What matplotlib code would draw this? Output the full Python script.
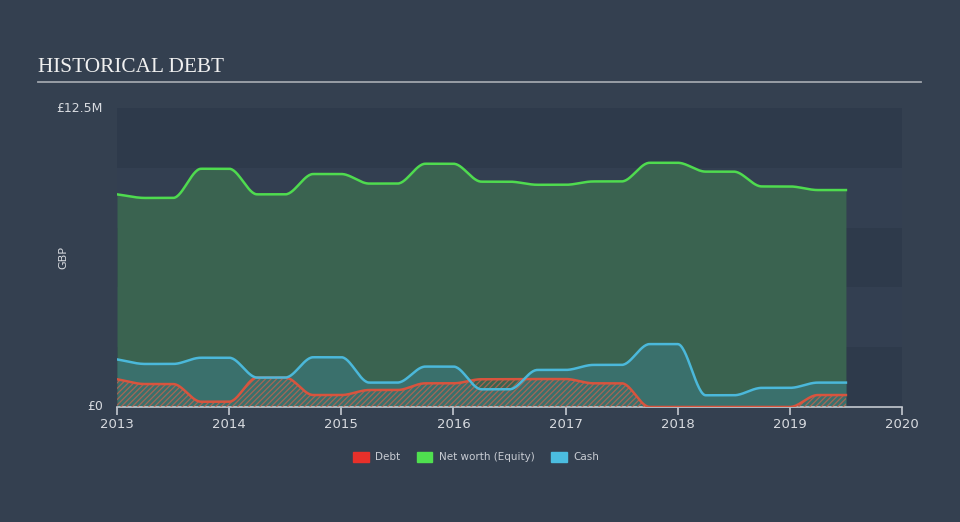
import numpy as np
import matplotlib
matplotlib.use("Agg")
import matplotlib.pyplot as plt

# ---- data (GBP millions, quarterly) ----
dates = [2013.0, 2013.25, 2013.5, 2013.75, 2014.0, 2014.25, 2014.5, 2014.75,
         2015.0, 2015.25, 2015.5, 2015.75, 2016.0, 2016.25, 2016.5, 2016.75,
         2017.0, 2017.25, 2017.5, 2017.75, 2018.0, 2018.25, 2018.5, 2018.75,
         2019.0, 2019.25, 2019.5]
equity = [8.89, 8.74, 8.74, 9.96, 9.96, 8.89, 8.89, 9.74,
          9.74, 9.34, 9.34, 10.17, 10.17, 9.42, 9.42, 9.29,
          9.29, 9.43, 9.43, 10.21, 10.21, 9.84, 9.84, 9.22,
          9.22, 9.07, 9.07]
cash = [1.99, 1.80, 1.80, 2.06, 2.06, 1.23, 1.23, 2.08,
        2.08, 1.02, 1.02, 1.69, 1.69, 0.74, 0.74, 1.55,
        1.55, 1.76, 1.76, 2.63, 2.63, 0.49, 0.49, 0.80,
        0.80, 1.02, 1.02]
debt = [1.16, 0.96, 0.96, 0.22, 0.22, 1.23, 1.23, 0.50,
        0.50, 0.71, 0.71, 0.99, 0.99, 1.16, 1.16, 1.17,
        1.17, 0.99, 0.99, 0.0, 0.0, 0.0, 0.0, 0.0,
        0.0, 0.50, 0.50]
year_ticks = [2013, 2014, 2015, 2016, 2017, 2018, 2019, 2020]
ytick_vals = [0, 12.5]
ytick_labels = ["£0", "£12.5M"]


def monotone(x, y, n=30):
    """Monotone cubic (Fritsch-Carlson) curve through points, for drawing."""
    x = np.asarray(x, float); y = np.asarray(y, float)
    h = np.diff(x); d = np.diff(y) / h
    m = np.zeros_like(y)
    for i in range(1, len(y) - 1):
        if d[i - 1] * d[i] > 0:
            w1 = 2 * h[i] + h[i - 1]; w2 = h[i] + 2 * h[i - 1]
            m[i] = (w1 + w2) / (w1 / d[i - 1] + w2 / d[i])
    m[0] = d[0]; m[-1] = d[-1]
    xs, ys = [], []
    for i in range(len(h)):
        t = np.linspace(0, 1, n, endpoint=(i == len(h) - 1))
        h00 = 2 * t**3 - 3 * t**2 + 1; h10 = t**3 - 2 * t**2 + t
        h01 = -2 * t**3 + 3 * t**2; h11 = t**3 - t**2
        xs.append(x[i] + t * h[i])
        ys.append(h00 * y[i] + h10 * h[i] * m[i] + h01 * y[i + 1] + h11 * h[i] * m[i + 1])
    return np.concatenate(xs), np.concatenate(ys)


BG = "#344050"
fig = plt.figure(figsize=(9.6, 5.22), dpi=100, facecolor=BG)
ax = fig.add_axes([117 / 960, 1 - 407 / 522, (902 - 117) / 960, (407 - 108) / 522])
ax.set_facecolor(BG)
ax.set_xlim(2013, 2020)
ax.set_ylim(0, 12.5)

# background bands
for i, lo in enumerate(np.arange(0, 12.5, 2.5)):
    col = "#2e3a4b" if i % 2 == 0 else "#333f51"
    ax.axhspan(lo, lo + 2.5, color=col, zorder=0, lw=0)

xe, ye = monotone(dates, equity)
xc, yc = monotone(dates, cash)
xd, yd = monotone(dates, debt)

ax.fill_between(xe, 0, ye, color="#3a6350", lw=0, zorder=1)
ax.fill_between(xc, 0, yc, color="#3a706c", lw=0, zorder=2)
plt.rcParams['hatch.linewidth'] = 0.9
ax.fill_between(xd, 0, yd, facecolor="none", edgecolor="#c0644f", hatch="//////",
                lw=0, zorder=3, alpha=0.8)
ax.plot(xe, ye, color="#4fdb4f", lw=1.8, zorder=5)
ax.plot(xc, yc, color="#4bb8da", lw=1.8, zorder=5)
ax.plot(xd, yd, color="#d8543e", lw=1.8, zorder=4)

# axes styling
for s in ["top", "right", "left"]:
    ax.spines[s].set_visible(False)
ax.spines["bottom"].set_color("#c4c8d0")
ax.spines["bottom"].set_linewidth(1.2)
ax.set_xticks(year_ticks)
ax.set_xticklabels([str(y) for y in year_ticks])
ax.tick_params(axis="x", colors="#c4c8d0", length=6, width=1.2, labelsize=9.5,
               labelcolor="#d8dbe0", pad=2)
ax.set_yticks(ytick_vals)
ax.set_yticklabels(ytick_labels)
ax.tick_params(axis="y", length=0, labelsize=9, labelcolor="#d8dbe0", pad=10)
for lab in ax.get_yticklabels():
    lab.set_verticalalignment("center")
ax.set_ylabel("GBP", color="#d8dbe0", fontsize=8)
ax.yaxis.set_label_coords(-0.062, 0.5)

# title
fig.text(38 / 960, 1 - 67 / 522, "HISTORICAL DEBT", family="Liberation Serif",
         fontsize=15.3, color="#f0f0f0", va="center", ha="left")
fig.add_artist(plt.Line2D([38 / 960, 921 / 960], [1 - 82 / 522, 1 - 82 / 522],
                          color="#a0a5ad", lw=1.3))

# legend
from matplotlib.patches import Patch
handles = [Patch(color="#e8302a", label="Debt"),
           Patch(color="#4fe04f", label="Net worth (Equity)"),
           Patch(color="#4bbde0", label="Cash")]
leg = fig.legend(handles=handles, loc="center", bbox_to_anchor=(476 / 960, 1 - 457 / 522),
                 ncol=3, frameon=False, fontsize=7.5, labelcolor="#c8ccd3",
                 handlelength=1.5, handleheight=1.1, columnspacing=1.6, handletextpad=0.6)

fig.savefig("out.png", dpi=100, facecolor=BG)
